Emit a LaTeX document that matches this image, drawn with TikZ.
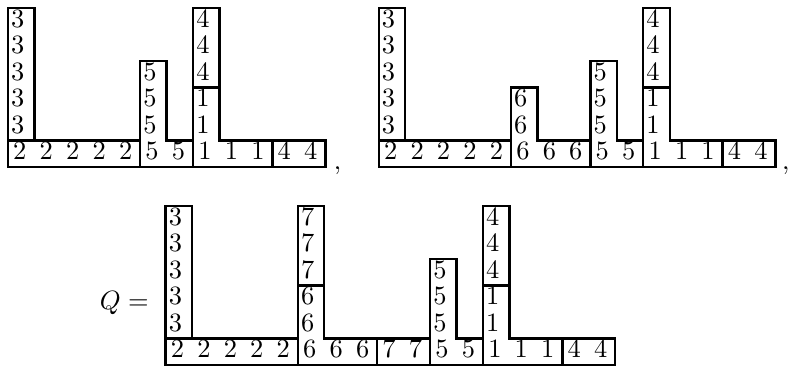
\documentclass[tikz,border=0pt]{standalone}
\begin{document}
\begin{tikzpicture}[x=10pt,y=10pt,reg/.style={line width=.9pt},num/.style={anchor=base west,inner sep=0pt}]
\useasboundingbox (0,0) rectangle (29.905,13.837);
% first diagram
\begin{scope}[shift={(.30,7.53)}]
\foreach \a/\b/\e/\l in {0/1/5/3,7/3/5/4}{\draw[reg] (\a,\b) rectangle (\a+1,\e+1);\foreach \j in {\b,...,\e}{\node[num] (A-c\a-\j) at (\a+.1,\j+.27){\l};}}
\foreach \a/\w/\l in {0/5/2,10/2/4}{\draw[reg] (\a,0) rectangle (\a+\w,1);\foreach \i in {1,...,\w}{\node[num] (A-r\a-\i) at (\a+\i-.82,.27){\l};}}
\foreach \a/\w/\e/\l in {5/2/3/5,7/3/2/1}{\draw[reg] (\a,0) -| (\a+\w,1) -| (\a+1,\e+1) -| (\a,0) -- cycle;
  \foreach \i in {1,...,\w}{\node[num] (A-h\a-\i) at (\a+\i-.82,.27){\l};}\foreach \j in {1,...,\e}{\node[num] (A-v\a-\j) at (\a+.1,\j+.27){\l};}}
\node[num] (A-comma) at (12.3,-.1){$,$};
\end{scope}
% second diagram
\begin{scope}[shift={(14.32,7.53)}]
\foreach \a/\b/\e/\l in {0/1/5/3,10/3/5/4}{\draw[reg] (\a,\b) rectangle (\a+1,\e+1);\foreach \j in {\b,...,\e}{\node[num] (B-c\a-\j) at (\a+.1,\j+.27){\l};}}
\foreach \a/\w/\l in {0/5/2,13/2/4}{\draw[reg] (\a,0) rectangle (\a+\w,1);\foreach \i in {1,...,\w}{\node[num] (B-r\a-\i) at (\a+\i-.82,.27){\l};}}
\foreach \a/\w/\e/\l in {5/3/2/6,8/2/3/5,10/3/2/1}{\draw[reg] (\a,0) -| (\a+\w,1) -| (\a+1,\e+1) -| (\a,0) -- cycle;
  \foreach \i in {1,...,\w}{\node[num] (B-h\a-\i) at (\a+\i-.82,.27){\l};}\foreach \j in {1,...,\e}{\node[num] (B-v\a-\j) at (\a+.1,\j+.27){\l};}}
\node[num] (B-comma) at (15.23,-.1){$,$};
\end{scope}
% Q
\begin{scope}[shift={(6.26,.04)}]
\node[num] (Q) at (-2.5,2.08){$Q=$};
\foreach \a/\b/\e/\l in {0/1/5/3,5/3/5/7,12/3/5/4}{\draw[reg] (\a,\b) rectangle (\a+1,\e+1);\foreach \j in {\b,...,\e}{\node[num] (C-c\a-\j) at (\a+.1,\j+.27){\l};}}
\foreach \a/\w/\l in {0/5/2,8/2/7,15/2/4}{\draw[reg] (\a,0) rectangle (\a+\w,1);\foreach \i in {1,...,\w}{\node[num] (C-r\a-\i) at (\a+\i-.82,.27){\l};}}
\foreach \a/\w/\e/\l in {5/3/2/6,10/2/3/5,12/3/2/1}{\draw[reg] (\a,0) -| (\a+\w,1) -| (\a+1,\e+1) -| (\a,0) -- cycle;
  \foreach \i in {1,...,\w}{\node[num] (C-h\a-\i) at (\a+\i-.82,.27){\l};}\foreach \j in {1,...,\e}{\node[num] (C-v\a-\j) at (\a+.1,\j+.27){\l};}}
\end{scope}
\end{tikzpicture}
\end{document}
